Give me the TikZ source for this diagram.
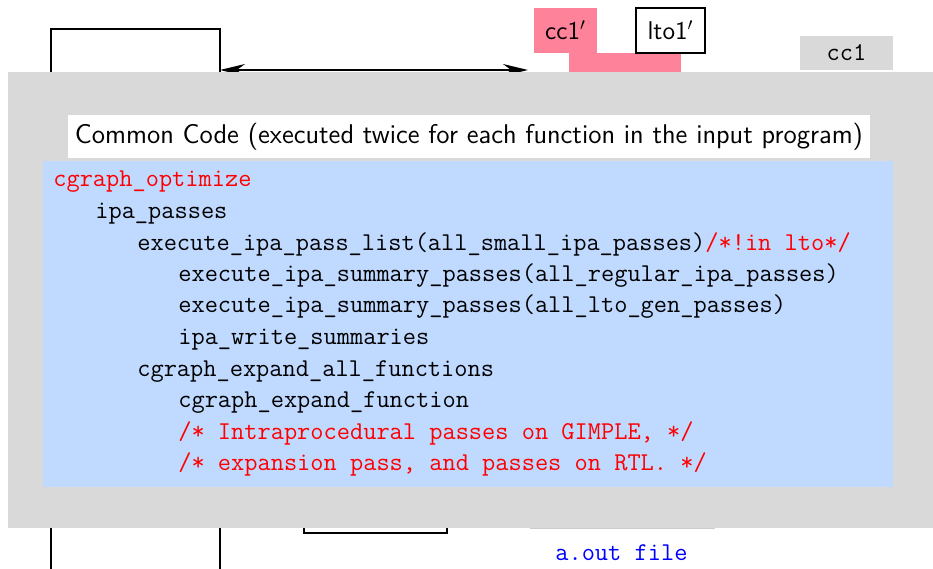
\documentclass[tikz,border=0pt]{standalone}
\usepackage{tikz}
\usetikzlibrary{arrows.meta,positioning}
\definecolor{shade}{RGB}{217,217,217}
\definecolor{pinkish}{RGB}{255,130,155}
\definecolor{codebg}{RGB}{191,217,255}
\newcommand{\biarrow}{{Stealth[length=5mm,width=2.4mm]}-{Stealth[length=5mm,width=2.4mm]}}

\begin{document}
\begin{tikzpicture}[x=0.02cm,y=-0.02cm,
    font=\fontsize{14.6}{18}\selectfont,
    plain/.style={inner sep=0pt,outer sep=0pt},
    frame/.style={plain,draw,line width=1pt},
    code/.style={anchor=base west,inner sep=0pt,font=\fontsize{14.6}{18}\selectfont\ttfamily}]
    \useasboundingbox (0,0) rectangle (933,568);
    % things partly hidden behind the common code box
    \node[frame,minimum width=3.38cm,minimum height=12.22cm] (srcfile) at (135.5,334.5) {};
    \node[frame,minimum width=2.86cm,minimum height=2.52cm] (objfile) at (375.5,470) {};
    \node[plain,draw=gray!40,minimum width=3.68cm,minimum height=2.32cm] (exefile) at (622,470) {};
    \coordinate (arrowend) at (528,70);
    \draw[\biarrow,line width=1pt] (srcfile.east |- arrowend) -- (arrowend);
    \node[plain,fill=pinkish,minimum width=2.24cm,minimum height=0.54cm] (ltobar) at (625,66.5) {};
    \node[plain,fill=pinkish,minimum width=1.26cm,minimum height=0.9cm,font=\fontsize{14.6}{18}\selectfont\sffamily] (ccone) at (565.5,30.5) {cc1$'$};
    \node[frame,fill=white,minimum width=1.38cm,minimum height=0.9cm,font=\fontsize{14.6}{18}\selectfont\sffamily] (ltoone) at (670.5,30.5) {lto1$'$};
    \node[plain,fill=shade,minimum width=1.86cm,minimum height=0.68cm,font=\fontsize{14.6}{18}\selectfont\ttfamily] (cc) at (846.5,53) {cc1};
    % common code
    \node[plain,fill=shade,minimum width=18.64cm,minimum height=9.12cm] (common) at (474,300) {};
    \node[plain,fill=white,minimum width=16.04cm,minimum height=0.86cm,font=\fontsize{15.4}{18}\selectfont\sffamily] (title) at (469,136.5) {Common Code (executed twice for each function in the input program)};
    \node[plain,fill=codebg,minimum width=17cm,minimum height=6.52cm] (codebox) at (468,324) {};
    \node[code,red] (l1) at (53,186) {cgraph\_optimize};
    \node[code] (l2) at (95,218) {ipa\_passes};
    \node[code] (l3) at (137,250) {execute\_ipa\_pass\_list(all\_small\_ipa\_passes)\textcolor{red}{/*!in lto*/}};
    \node[code] (l4) at (178,281) {execute\_ipa\_summary\_passes(all\_regular\_ipa\_passes)};
    \node[code] (l5) at (178,312) {execute\_ipa\_summary\_passes(all\_lto\_gen\_passes)};
    \node[code] (l6) at (178,344) {ipa\_write\_summaries};
    \node[code] (l7) at (137,376) {cgraph\_expand\_all\_functions};
    \node[code] (l8) at (178,407) {cgraph\_expand\_function};
    \node[code,red] (l9) at (178,439) {/* Intraprocedural passes on GIMPLE, */};
    \node[code,red] (l10) at (178,470) {/* expansion pass, and passes on RTL. */};
    \node[code,blue] (aout) at (555,560) {a.out file};
\end{tikzpicture}
\end{document}
